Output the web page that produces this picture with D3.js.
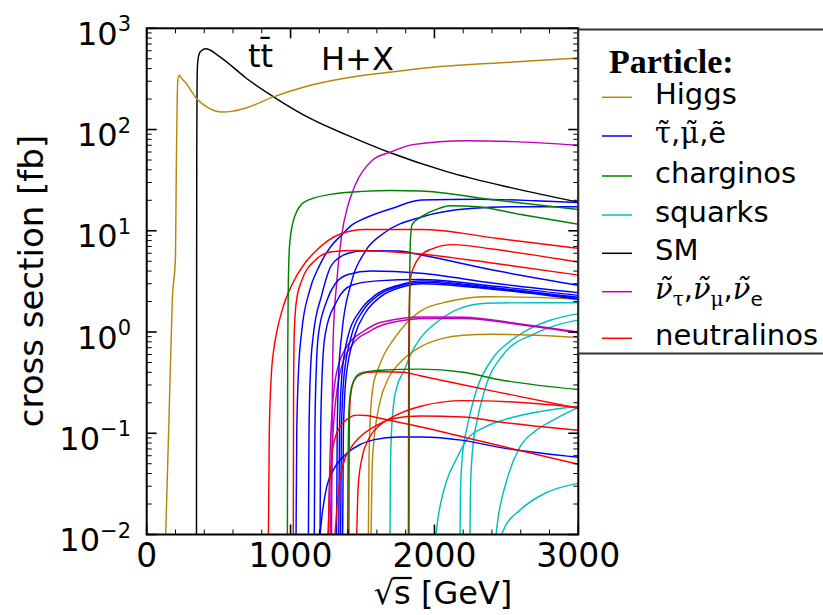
<!DOCTYPE html>
<html>
<head>
<meta charset="utf-8">
<script src="https://cdn.jsdelivr.net/npm/d3@7"></script>
<style>
  body { margin: 0; background: #fff; }
  svg { display: block; font-family: "DejaVu Sans", sans-serif; }
</style>
</head>
<body>
<svg width="823" height="615"></svg>
<script>

// curves: [sqrt(s) in GeV, cross section in fb]
var higgs = [
  [[132,0.01],[155,0.14],[178,2.07],[200,5.5],[203,15],[207,60],[212,200],[218,320],[227,343],[236,330],[245,318],[273,288],[343,205],[412,169],[516,149],[600,152],[690,163],[876,209],[1100,265],[1385,323],[1700,370],[1988,412],[2544,464],[3000,510]],
  [[1541,0.01],[1545,0.05],[1555,0.15],[1575,0.3],[1600,0.4],[1650,0.6],[1720,0.86],[1800,1.2],[1900,1.6],[2100,2.0],[2363,2.23],[2700,2.2],[3000,2.1]],
  [[1560,0.01],[1568,0.05],[1585,0.1],[1620,0.2],[1680,0.35],[1761,0.5],[1900,0.71],[2050,0.86],[2200,0.93],[2400,0.95],[2700,0.93],[3000,0.885]]
];

var sleptons = [
  [[1038,0.01],[1043,0.1],[1055,0.4],[1077,1.0],[1130,2.5],[1200,4.5],[1280,7],[1355,9.1],[1430,11.5],[1517,13.3],[1703,16.6],[1911,20.1],[2300,20.5],[2700,19.8],[3000,19]],
  [[1124,0.01],[1128,0.1],[1138,0.4],[1158,0.93],[1216,2.3],[1286,4.6],[1401,6.0],[1517,6.35],[1750,6.3],[1900,5.8],[2442,4.0],[3000,2.9]],
  [[1165,0.01],[1169,0.1],[1178,0.4],[1193,0.93],[1250,2.0],[1310,3.0],[1400,3.7],[1563,4.0],[1900,3.8],[2400,3.05],[3000,2.45]],
  [[1205,0.01],[1209,0.1],[1220,0.4],[1240,0.93],[1320,2.0],[1425,2.9],[1600,3.2],[1900,3.3],[2400,2.85],[3000,2.3]],
  [[1320,0.01],[1324,0.1],[1335,0.4],[1355,0.93],[1420,3],[1517,6.2],[1650,9.5],[1911,13.7],[2250,16.6],[2600,17.3],[3000,17.3]],
  [[1335,0.01],[1340,0.1],[1355,0.35],[1401,0.93],[1480,1.6],[1587,2.3],[1750,2.9],[1911,3.2],[2400,2.75],[3000,2.2]],
  [[1348,0.01],[1353,0.1],[1370,0.35],[1424,0.93],[1500,1.6],[1600,2.25],[1760,2.85],[1911,3.1],[2400,2.7],[3000,2.15]],
  [[1362,0.01],[1367,0.1],[1385,0.35],[1447,0.93],[1520,1.55],[1620,2.2],[1780,2.8],[1911,3.0],[2400,2.65],[3000,2.1]],
  [[1205,0.01],[1220,0.016],[1251,0.0295],[1300,0.044],[1390,0.063],[1480,0.077],[1575,0.086],[1750,0.092],[1900,0.092],[2200,0.085],[2442,0.073],[3000,0.058]]
];

var charginos = [
  [[978,0.01],[980,0.5],[983,2],[988,5],[996,8],[1030,14],[1100,19.4],[1286,23],[1500,24.5],[1700,25],[1900,24.7],[2440,20],[3000,16.2]],
  [[1823,0.01],[1825,0.5],[1828,3],[1833,8],[1845,11.5],[1900,13.5],[2000,16],[2108,17.7],[2300,17.3],[2600,14.5],[3000,11.6]],
  [[1397,0.01],[1400,0.05],[1405,0.15],[1413,0.23],[1440,0.33],[1483,0.39],[1622,0.42],[1900,0.43],[2200,0.40],[2442,0.34],[3000,0.27]]
];

var squarks = [
  [[1691,0.01],[1694,0.04],[1700,0.09],[1714,0.18],[1740,0.29],[1784,0.4],[1840,0.62],[1900,0.86],[2000,1.2],[2130,1.6],[2360,1.92],[2700,1.95],[3000,1.95]],
  [[2178,0.01],[2181,0.025],[2190,0.05],[2205,0.08],[2224,0.11],[2294,0.27],[2409,0.56],[2520,0.8],[2620,1.0],[2800,1.3],[3000,1.52]],
  [[2247,0.01],[2250,0.025],[2258,0.05],[2272,0.085],[2290,0.12],[2350,0.27],[2479,0.6],[2687,0.95],[2850,1.17],[3000,1.31]],
  [[2011,0.01],[2020,0.0129],[2039,0.019],[2085,0.034],[2155,0.0565],[2224,0.086],[2350,0.115],[2478,0.135],[2800,0.17],[3000,0.185]],
  [[2428,0.01],[2444,0.015],[2502,0.034],[2594,0.073],[2700,0.105],[2826,0.135],[3000,0.18]],
  [[2467,0.01],[2490,0.0119],[2594,0.0174],[2780,0.026],[3000,0.032]]
];

var sm = [
  [[346,0.01],[347,3],[348,60],[350,300],[355,470],[365,560],[380,600],[412,628],[440,610],[480,560],[551,472],[690,323],[876,213],[1154,125],[1385,89],[1698,58.6],[2080,38.6],[2544,26.4],[3000,19.2]]
];

var sneutrinos = [
  [[1285,0.01],[1290,0.2],[1297,0.93],[1320,3],[1355,9],[1400,18],[1448,28],[1571,50],[1698,60],[1849,71],[2219,77.6],[2544,76],[3000,70]],
  [[1262,0.01],[1280,0.1],[1320,0.4],[1400,0.75],[1500,1.0],[1630,1.25],[1930,1.41],[2200,1.4],[2600,1.2],[3000,1.0]],
  [[1275,0.01],[1295,0.1],[1345,0.4],[1430,0.75],[1540,1.0],[1680,1.22],[1950,1.36],[2200,1.36],[2600,1.18],[3000,0.98]]
];

var neutralinos = [
  [[846,0.01],[852,0.1],[865,0.35],[885,0.7],[904,1.0],[950,1.8],[1008,2.9],[1100,4.8],[1170,6.2],[1260,8],[1355,9.4],[1517,10.3],[1911,10.3],[2442,8.4],[3000,6.7]],
  [[1019,0.01],[1021,0.3],[1026,1.0],[1040,2.0],[1077,3.2],[1170,5.1],[1286,6.2],[1450,6.4],[1842,6.0],[2400,4.8],[3000,3.65]],
  [[1819,0.01],[1821,0.5],[1826,2],[1835,3.5],[1854,4.3],[1900,5.6],[1980,6.6],[2130,7.3],[2400,6.6],[3000,4.9]],
  [[1405,0.01],[1408,0.1],[1413,0.2],[1430,0.3],[1470,0.37],[1540,0.40],[1620,0.405],[1780,0.40],[1900,0.37],[2442,0.255],[3000,0.176]],
  [[1460,0.01],[1470,0.03],[1500,0.06],[1540,0.086],[1620,0.12],[1710,0.145],[1906,0.185],[2200,0.21],[2500,0.205],[3000,0.18]],
  [[1309,0.01],[1330,0.025],[1367,0.05],[1420,0.072],[1483,0.092],[1600,0.12],[1714,0.14],[1906,0.148],[2200,0.145],[2444,0.13],[3000,0.107]],
  [[1262,0.01],[1270,0.025],[1286,0.058],[1310,0.09],[1344,0.116],[1400,0.14],[1460,0.151],[1530,0.15],[1598,0.143],[1900,0.116],[2442,0.076],[3000,0.0495]]
];

var xMajor = [0, 1000, 2000, 3000];
var yDecades = [-2, -1, 0, 1, 2, 3];

// legend order, with colours
var groups = [
  {key: "higgs", curves: higgs, color: "#b8860b"},
  {key: "sleptons", curves: sleptons, color: "#0000ff"},
  {key: "charginos", curves: charginos, color: "#008000"},
  {key: "squarks", curves: squarks, color: "#00bfbf"},
  {key: "sm", curves: sm, color: "#000000"},
  {key: "sneutrinos", curves: sneutrinos, color: "#bf00bf"},
  {key: "neutralinos", curves: neutralinos, color: "#ff0000"}
];

function draw() {
  var svg = d3.select("svg");
  var pLeft = 146.7, pRight = 578.3, pTop = 28.3, pBottom = 534.5;

  var x = d3.scaleLinear().domain([0, 3000]).range([pLeft, pRight]);
  var y = d3.scaleLog().domain([0.01, 1000]).range([pBottom, pTop]);

  svg.append("defs").append("clipPath").attr("id", "plotclip")
    .append("rect")
      .attr("x", pLeft).attr("y", pTop)
      .attr("width", pRight - pLeft).attr("height", pBottom - pTop);

  var line = d3.line()
    .x(function(d) { return x(d[0]); })
    .y(function(d) { return y(d[1]); })
    .curve(d3.curveMonotoneX);

  // draw order: sm first, then the rest
  var drawOrder = ["sm", "squarks", "higgs", "sneutrinos", "sleptons", "neutralinos", "charginos"];
  var plot = svg.append("g").attr("clip-path", "url(#plotclip)");
  drawOrder.forEach(function(k) {
    var grp = groups.filter(function(g) { return g.key == k; })[0];
    plot.append("g")
        .attr("fill", "none")
        .attr("stroke", grp.color)
        .attr("stroke-width", 1.45)
      .selectAll("path")
      .data(grp.curves)
      .enter().append("path")
        .attr("d", line);
  });

  // ticks, pointing inwards on all four sides
  var ticks = svg.append("g").attr("stroke", "#000");
  d3.range(0, 3001, 200).forEach(function(v) {
    var major = xMajor.indexOf(v) >= 0, len = major ? 10 : 5;
    ticks.append("line").attr("x1", x(v)).attr("x2", x(v)).attr("y1", pBottom).attr("y2", pBottom - len)
      .attr("stroke-width", major ? 1.6 : 1);
    ticks.append("line").attr("x1", x(v)).attr("x2", x(v)).attr("y1", pTop).attr("y2", pTop + len)
      .attr("stroke-width", major ? 1.6 : 1);
  });
  y.ticks().forEach(function(v) {
    var lg = Math.log10(v), major = Math.abs(lg - Math.round(lg)) < 1e-9, len = major ? 10 : 5;
    ticks.append("line").attr("x1", pLeft).attr("x2", pLeft + len).attr("y1", y(v)).attr("y2", y(v))
      .attr("stroke-width", major ? 1.6 : 1);
    ticks.append("line").attr("x1", pRight).attr("x2", pRight - len).attr("y1", y(v)).attr("y2", y(v))
      .attr("stroke-width", major ? 1.6 : 1);
  });

  svg.append("rect")
    .attr("x", pLeft).attr("y", pTop)
    .attr("width", pRight - pLeft).attr("height", pBottom - pTop)
    .attr("fill", "none").attr("stroke", "#000").attr("stroke-width", 2);

  // tick labels
  svg.append("g").selectAll("text")
    .data(xMajor)
    .enter().append("text")
      .attr("x", function(d) { return x(d); })
      .attr("y", 567)
      .attr("text-anchor", "middle")
      .attr("font-size", 33)
      .text(function(d) { return d; });

  var ylab = svg.append("g").selectAll("text")
    .data(yDecades)
    .enter().append("text")
      .attr("x", 131)
      .attr("y", function(d) { return y(Math.pow(10, d)) + 16.5; })
      .attr("text-anchor", "end")
      .attr("font-size", 32);
  ylab.append("tspan").text("10");
  ylab.append("tspan")
    .attr("dy", -13.5)
    .attr("font-size", 21)
    .text(function(d) { return d < 0 ? "\u2212" + (-d) : d; });

  // axis titles
  var xt = svg.append("text")
    .attr("x", 443).attr("y", 604)
    .attr("text-anchor", "middle")
    .attr("font-size", 32)
    .text("\u221as [GeV]");
  // bar of the root sign over the s
  var root = xt.node().getExtentOfChar(0), ess = xt.node().getExtentOfChar(1);
  svg.append("line")
    .attr("x1", root.x + root.width - 1.5).attr("x2", ess.x + ess.width + 1)
    .attr("y1", 578).attr("y2", 578)
    .attr("stroke", "#000").attr("stroke-width", 2.2);

  svg.append("text")
    .attr("transform", "translate(43,281) rotate(-90)")
    .attr("text-anchor", "middle")
    .attr("font-size", 34)
    .text("cross section [fb]");

  // process labels inside the plot
  svg.append("text").attr("x", 248).attr("y", 67).attr("font-size", 32).text("tt\u0304");
  svg.append("text").attr("x", 321).attr("y", 70).attr("font-size", 32).text("H+X");

  // legend
  var legend = svg.append("g");
  legend.append("rect")
    .attr("x", pRight).attr("y", 29.5)
    .attr("width", 260).attr("height", 324)
    .attr("fill", "#fff").attr("stroke", "#333").attr("stroke-width", 2);
  legend.append("text")
    .attr("x", 609).attr("y", 73)
    .style("font-family", "'Liberation Serif', 'Times New Roman', serif")
    .attr("font-weight", "bold")
    .attr("font-size", 34)
    .text("Particle:");

  var rowsY = [97.3, 136, 176, 215, 253.3, 291.7, 338.3];
  var rows = legend.selectAll("g.row")
    .data(groups)
    .enter().append("g")
      .attr("class", "row")
      .attr("transform", function(d, i) { return "translate(0," + rowsY[i] + ")"; });

  rows.append("line")
    .attr("x1", 602).attr("x2", 632)
    .attr("stroke", function(d) { return d.color; })
    .attr("stroke-width", 1.5);

  var labels = rows.append("text")
    .attr("x", 655).attr("y", 7)
    .attr("font-size", 29);

  var serif = "'DejaVu Serif', serif";
  labels.each(function(d) {
    var t = d3.select(this);
    if (d.key == "higgs") t.text("Higgs");
    if (d.key == "charginos") t.text("charginos");
    if (d.key == "squarks") t.text("squarks");
    if (d.key == "sm") t.text("SM");
    if (d.key == "neutralinos") t.text("neutralinos");
    if (d.key == "sleptons") {
      t.append("tspan").style("font-family", serif).text("\u03c4\u0303");
      t.append("tspan").text(",");
      t.append("tspan").style("font-family", serif).text("\u03bc\u0303");
      t.append("tspan").text(",e\u0303");
    }
    if (d.key == "sneutrinos") {
      ["\u03c4", "\u03bc", "e"].forEach(function(s, i) {
        if (i > 0) t.append("tspan").attr("dy", -7).text(",");
        t.append("tspan").style("font-family", serif).style("font-style", "italic")
          .attr("dy", i > 0 ? 0 : null).text("\u03bd\u0303");
        var sub = t.append("tspan").attr("dy", 7).attr("font-size", 20).text(s);
        if (s != "e") sub.style("font-family", serif);
      });
    }
  });
}

draw();

</script>
</body>
</html>
